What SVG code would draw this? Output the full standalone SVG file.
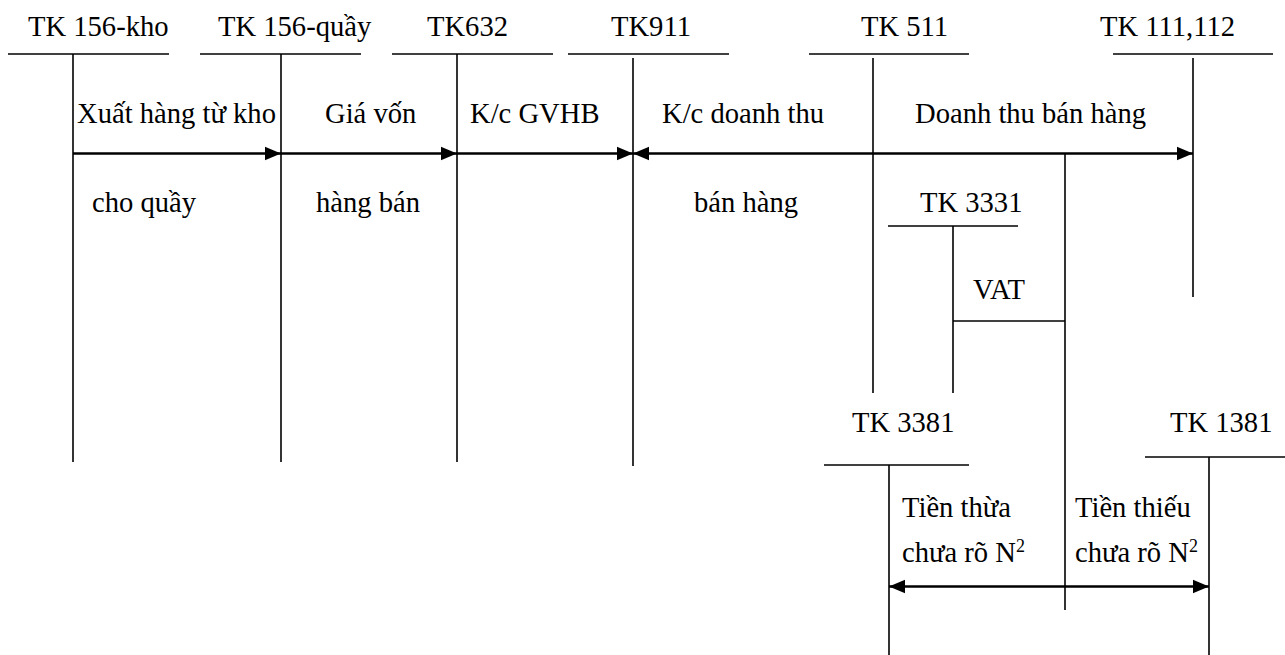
<svg xmlns="http://www.w3.org/2000/svg" width="1285" height="655" viewBox="0 0 1285 655" font-family="'Liberation Serif', 'Times New Roman', serif">
  <style>
    text { font-family: 'Liberation Serif', 'Times New Roman', serif; font-size: 28.6px; fill: #000; }
    .ln { stroke: #000; stroke-width: 1.6; fill: none; }
    .flow { stroke: #000; stroke-width: 2.4; fill: none; }
    .sup { font-size: 18px; }
  </style>
  <defs>
    <marker id="tip" markerUnits="userSpaceOnUse" markerWidth="18" markerHeight="16" refX="16" refY="8" orient="auto-start-reverse">
      <path d="M0,1.2 L16,8 L0,14.8 Z" fill="#000"/>
    </marker>
  </defs>

  <rect width="1285" height="655" fill="#fff"/>

  <!-- T-accounts -->
  <g id="tk156kho">
    <text x="28" y="36">TK 156-kho</text>
    <line class="ln" x1="8" y1="54" x2="169" y2="54"/>
    <line class="ln" x1="73" y1="54" x2="73" y2="462"/>
  </g>
  <g id="tk156quay">
    <text x="218" y="36">TK 156-quầy</text>
    <line class="ln" x1="200" y1="54" x2="361" y2="54"/>
    <line class="ln" x1="281" y1="54" x2="281" y2="462"/>
  </g>
  <g id="tk632">
    <text x="427" y="36">TK632</text>
    <line class="ln" x1="392" y1="54" x2="553" y2="54"/>
    <line class="ln" x1="457" y1="54" x2="457" y2="462"/>
  </g>
  <g id="tk911">
    <text x="611" y="36">TK911</text>
    <line class="ln" x1="568" y1="54" x2="729" y2="54"/>
    <line class="ln" x1="633" y1="58" x2="633" y2="466"/>
  </g>
  <g id="tk511">
    <text x="861" y="36">TK 511</text>
    <line class="ln" x1="809" y1="54" x2="969" y2="54"/>
    <line class="ln" x1="873" y1="58" x2="873" y2="393"/>
  </g>
  <g id="tk111">
    <text x="1100" y="36">TK 111,112</text>
    <line class="ln" x1="1113" y1="54" x2="1273" y2="54"/>
    <line class="ln" x1="1193" y1="58" x2="1193" y2="297"/>
  </g>
  <g id="tk3331">
    <text x="920" y="212">TK 3331</text>
    <line class="ln" x1="888" y1="226" x2="1018" y2="226"/>
    <line class="ln" x1="953" y1="226" x2="953" y2="393"/>
  </g>
  <g id="tk3381">
    <text x="852" y="432">TK 3381</text>
    <line class="ln" x1="824" y1="465" x2="969" y2="465"/>
    <line class="ln" x1="889" y1="465" x2="889" y2="655"/>
  </g>
  <g id="tk1381">
    <text x="1170" y="432">TK 1381</text>
    <line class="ln" x1="1145" y1="457" x2="1285" y2="457"/>
    <line class="ln" x1="1209" y1="457" x2="1209" y2="655"/>
  </g>

  <!-- Postings -->
  <g id="connectors">
    <line class="flow" x1="73" y1="153.5" x2="281" y2="153.5" marker-end="url(#tip)"/>
    <line class="flow" x1="281" y1="153.5" x2="457" y2="153.5" marker-end="url(#tip)"/>
    <line class="flow" x1="457" y1="153.5" x2="633" y2="153.5" marker-end="url(#tip)"/>
    <line class="flow" x1="633" y1="153.5" x2="1193" y2="153.5" marker-start="url(#tip)" marker-end="url(#tip)"/>
    <line class="ln" x1="1065" y1="153" x2="1065" y2="610"/>
    <line class="ln" x1="953" y1="321" x2="1065" y2="321"/>
    <line class="flow" x1="889" y1="586.5" x2="1209" y2="586.5" marker-start="url(#tip)" marker-end="url(#tip)"/>
  </g>

  <!-- Posting labels -->
  <g id="labels">
    <text x="77" y="123">Xuất hàng từ kho</text>
    <text x="92" y="212">cho quầy</text>
    <text x="325" y="123">Giá vốn</text>
    <text x="316" y="212">hàng bán</text>
    <text x="470" y="123">K/c GVHB</text>
    <text x="662" y="123">K/c doanh thu</text>
    <text x="694" y="212">bán hàng</text>
    <text x="915" y="123">Doanh thu bán hàng</text>
    <text x="973" y="299">VAT</text>
    <text x="902" y="517">Tiền thừa</text>
    <text x="902" y="562">chưa rõ N<tspan class="sup" dy="-10">2</tspan></text>
    <text x="1075" y="517">Tiền thiếu</text>
    <text x="1075" y="562">chưa rõ N<tspan class="sup" dy="-10">2</tspan></text>
  </g>
</svg>
